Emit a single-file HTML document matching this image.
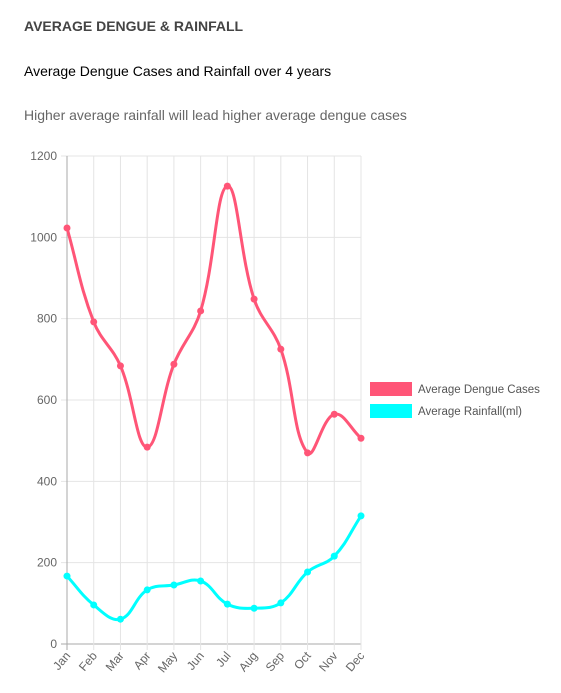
<!DOCTYPE html>
<html><head><meta charset="utf-8"><style>
body{margin:0;width:561px;height:693px;background:#fff;font-family:"Liberation Sans",Arial,sans-serif;overflow:hidden;position:relative}
.t{position:absolute;left:24px;white-space:nowrap}
</style></head><body>
<div class="t" style="top:18px;font-size:14px;font-weight:bold;color:#444">AVERAGE DENGUE &amp; RAINFALL</div>
<div class="t" style="top:63px;font-size:14px;color:#000">Average Dengue Cases and Rainfall over 4 years</div>
<div class="t" style="top:107px;font-size:14px;color:#666">Higher average rainfall will lead higher average dengue cases</div>
<svg id="c" width="561" height="693" style="position:absolute;left:0;top:0"></svg>
<script>
const months=["Jan","Feb","Mar","Apr","May","Jun","Jul","Aug","Sep","Oct","Nov","Dec"];
const dengue=[1023,792,684,484,688,819,1126,848,725,470,565,506];
const rainfall=[167,96,61,133,145,155,98,88,101,177,216,315];
const yTicks=[0,200,400,600,800,1000,1200];
const seriesNames=["Average Dengue Cases","Average Rainfall(ml)"];
const svg=document.getElementById('c');const NS="http://www.w3.org/2000/svg";
const L=67,R=361,T=156,B=644,YMAX=1200;
const xs=i=>L+i*(R-L)/(months.length-1);
const ys=v=>B-v/YMAX*(B-T);
function mk(tag,a,parent){const e=document.createElementNS(NS,tag);for(const k in a)e.setAttribute(k,a[k]);(parent||svg).appendChild(e);return e;}
const grid=mk('g',{});
yTicks.forEach(v=>{const y=ys(v);
 mk('line',{x1:L-6,x2:R,y1:y,y2:y,stroke:v===0?'#aaa':'#e4e4e4','stroke-width':1},grid);
 const t=mk('text',{x:L-10,y:y+4,'text-anchor':'end','font-size':12,fill:'#666'});t.textContent=v;
 });
months.forEach((m,i)=>{const x=xs(i);
 mk('line',{x1:x,x2:x,y1:T,y2:B+6,stroke:i===0?'#aaa':'#e4e4e4','stroke-width':1},grid);
 const t=mk('text',{x:0,y:0,'text-anchor':'end','font-size':12,fill:'#666',transform:`translate(${x+4},${B+12}) rotate(-50)`});t.textContent=m;
 });
function path(vals){const p=vals.map((v,i)=>[xs(i),ys(v)]);const tn=0.4;const cps=[];
 for(let i=0;i<p.length;i++){const pr=p[i-1]||p[i],c=p[i],nx=p[i+1]||p[i];
  const d01=Math.hypot(c[0]-pr[0],c[1]-pr[1]),d12=Math.hypot(nx[0]-c[0],nx[1]-c[1]);
  let s01=d01/(d01+d12)||0,s12=d12/(d01+d12)||0;const fa=tn*s01,fb=tn*s12;
  cps.push({p:[c[0]-fa*(nx[0]-pr[0]),c[1]-fa*(nx[1]-pr[1])],n:[c[0]+fb*(nx[0]-pr[0]),c[1]+fb*(nx[1]-pr[1])]});}
 let d=`M${p[0][0]},${p[0][1]}`;for(let i=1;i<p.length;i++){d+=`C${cps[i-1].n[0]},${cps[i-1].n[1]} ${cps[i].p[0]},${cps[i].p[1]} ${p[i][0]},${p[i][1]}`;}
 return {d,p};}
[[dengue,'#ff5577','dengue-line'],[rainfall,'#00ffff','rainfall-line']].forEach(([vals,col,name])=>{
 const r=path(vals);const g=mk('g',{});
 mk('path',{d:r.d,fill:'none',stroke:col,'stroke-width':3},g);
 r.p.forEach(q=>{const c=mk('circle',{cx:q[0],cy:q[1],r:3.5,fill:col},g);});});
[['#ff5577',382],['#00ffff',404]].forEach(([col,y],i)=>{const g=mk('g',{});
 mk('rect',{x:370,y:y,width:42,height:14,fill:col},g);
 const t=mk('text',{x:418,y:y+11,'font-size':11.5,fill:'#555'},g);t.textContent=seriesNames[i];});
</script>
</body></html>
